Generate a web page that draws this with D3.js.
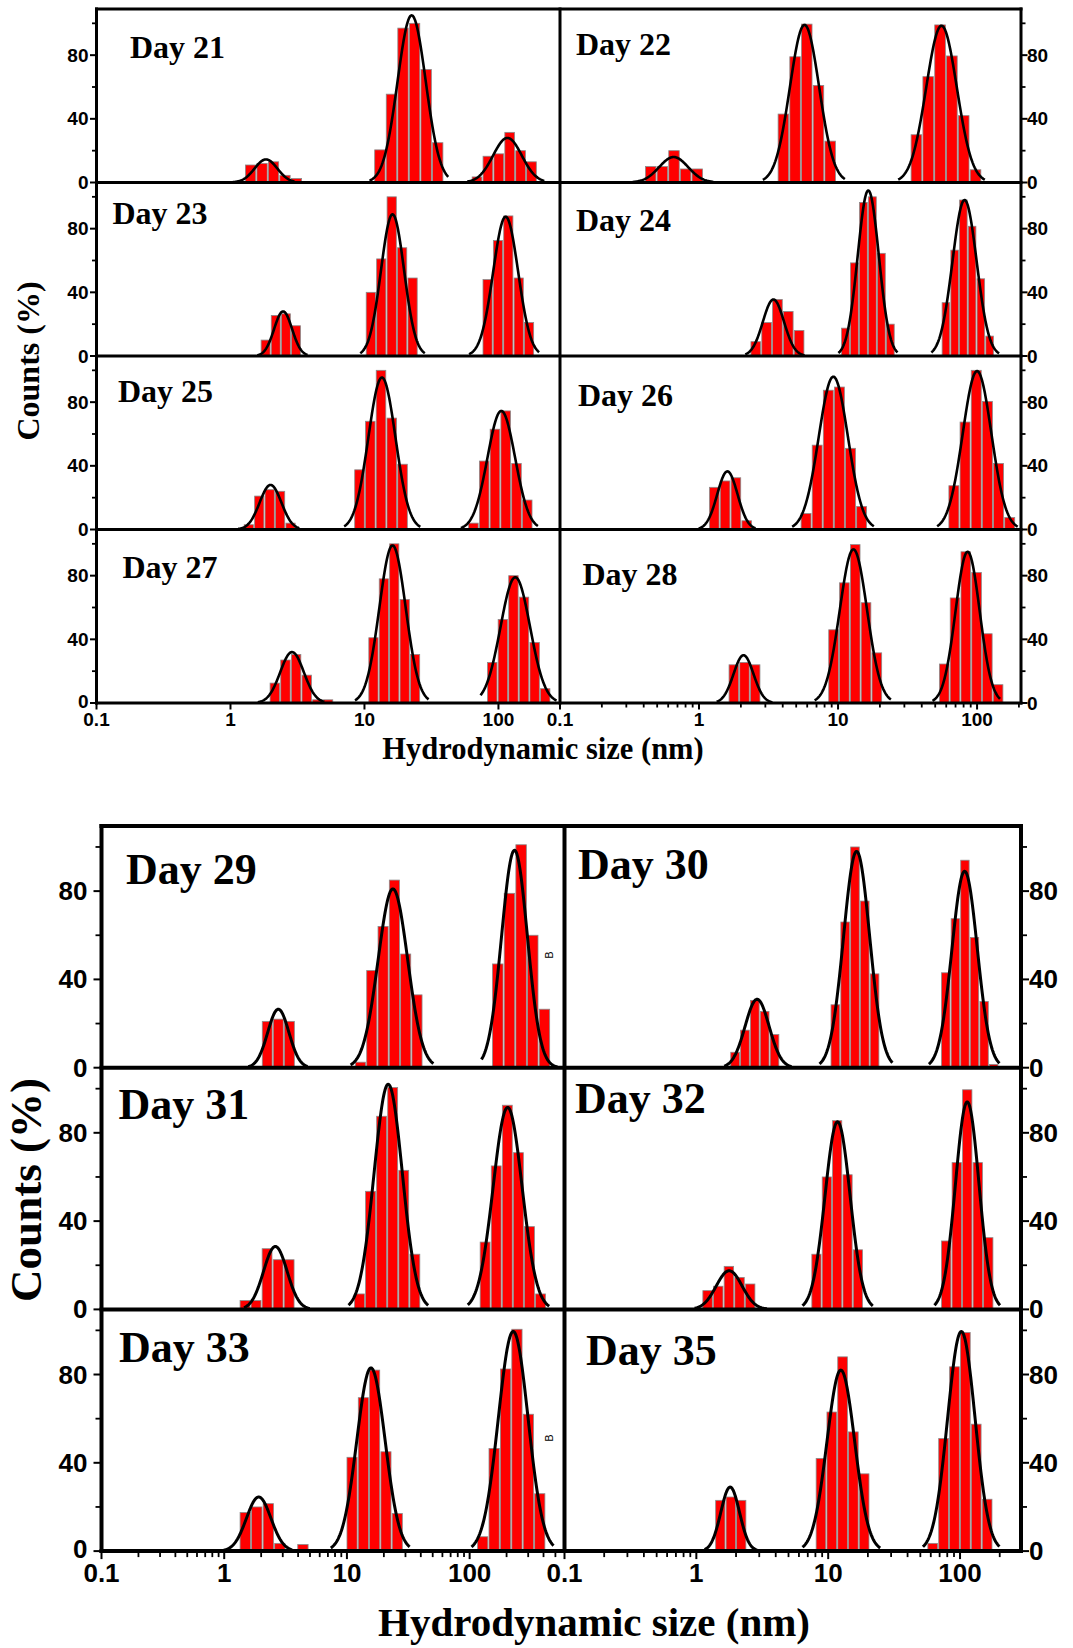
<!DOCTYPE html>
<html><head><meta charset="utf-8">
<script src="https://cdn.jsdelivr.net/npm/d3@7"></script>
<style>body{margin:0;background:#fff} svg{display:block}</style>
</head><body>
<svg id="chart" width="1073" height="1648"></svg>
<script>
// ---------- DATA ----------
// histogram peaks: [lowEdge nm, highEdge nm, counts per (log-equal) bin]
const hist21 = [[1.28, 3.43, [11, 12, 13, 4.5, 2.5]], [11.8, 38.9, [20.5, 55.5, 97, 100, 71, 25]], [63, 193.7, [3.5, 16.5, 18, 31.5, 20, 13]]];
const hist22 = [[0.408, 1.07, [10, 10, 20, 8.5, 8.5]], [3.67, 9.67, [43, 79, 99.5, 61, 26]], [33.2, 107.5, [30, 66.5, 99, 79.5, 42, 8]]];
const hist23 = [[1.676, 3.365, [10, 25.5, 26.5, 19]], [10.2, 25, [40, 61, 100, 68, 49]], [75.9, 185, [48, 72.5, 88, 49, 21]]];
const hist24 = [[2.34, 5.74, [9, 21, 35.5, 28, 16]], [10.5, 25.6, [17.5, 58.5, 96.5, 100, 64.5, 20]], [55.5, 132.3, [33.5, 66.5, 98, 81.5, 48.5, 12.5]]];
const hist25 = [[1.253, 3.07, [3, 21, 25, 24, 4]], [8.37, 21.1, [37.5, 68, 100, 70, 41]], [59.3, 179.9, [4, 43, 63, 74.5, 41.5, 18.5]]];
const hist26 = [[1.177, 2.41, [26.5, 30.5, 32.5, 5.5]], [5.37, 16.2, [10, 53, 87.5, 89.5, 51, 14.5]], [62.1, 188.4, [27.5, 67.5, 100, 80.5, 41.5, 7.5]]];
const hist27 = [[1.955, 5.86, [12.5, 27, 30.5, 17.5, 2, 2]], [10.67, 26.1, [41, 78, 100, 65, 30.5]], [82.1, 244.7, [25.5, 52.5, 80, 66.5, 38, 9]]];
const hist28 = [[1.628, 2.77, [24, 25.5, 24]], [8.49, 20.8, [46, 75.5, 99.5, 63, 31.5]], [53.1, 154.9, [24.5, 66, 95, 82, 43.5, 11.5]]];
const hist29 = [[2.02, 3.77, [21, 22, 21]], [11.6, 41.4, [2.5, 44, 64, 85, 51.5, 33]], [152, 454, [47, 79, 101, 60, 26.5]]];
const hist30 = [[1.805, 4.27, [7, 17, 30.5, 25.5, 15]], [10.4, 24.5, [28.5, 66, 100, 75.5, 42.5]], [71.7, 195.6, [43, 67.5, 94, 59, 30, 1.5]]];
const hist31 = [[1.332, 3.75, [4, 4, 27.5, 22.5, 22.5]], [11.4, 39.7, [7, 53.5, 87.5, 100.5, 63, 25]], [120.5, 420, [30.5, 65, 92.5, 71, 37.5, 7]]];
const hist32 = [[1.109, 2.81, [8.5, 10.5, 19.5, 14.5, 11.5]], [7.44, 18.4, [25, 60, 85.5, 61, 27]], [71.7, 179.5, [31, 66.5, 99.5, 66.5, 32.5]]];
const hist33 = [[1.332, 4.88, [17.5, 20, 21.5, 3.5, 0, 3]], [9.9, 28.6, [42.5, 69.5, 82, 45, 17]], [114.8, 415, [6.5, 46.5, 82.5, 100.5, 62, 26]]];
const hist35 = [[1.387, 2.40, [23, 24.5, 23]], [8.02, 20.6, [42, 63, 88, 54, 35]], [56.4, 176.5, [3.5, 51, 83.5, 99, 57.5, 23.5]]];

// Gauss fits: [centre nm, height %, width (decades), drawn from nm, drawn to nm]
const fit21 = [[1.84, 14.5, 0.085, 1.0, 3.0], [22.5, 105, 0.105, 10.9, 42.2], [116.7, 28, 0.107, 58.5, 220]];
const fit22 = [[0.657, 16, 0.104, 0.333, 1.265], [5.74, 99, 0.105, 2.88, 11.2], [55.5, 98.5, 0.11, 27.1, 113.8]];
const fit23 = [[2.47, 28, 0.067, 1.585, 3.76], [16.2, 89, 0.086, 9.3, 28.2], [113.2, 87.5, 0.093, 60.3, 201]];
const fit24 = [[3.43, 35.5, 0.076, 2.15, 5.74], [16.5, 104, 0.076, 10.06, 26.8], [81.3, 98, 0.087, 46.9, 143.9]];
const fit25 = [[1.99, 28, 0.081, 1.14, 3.26], [13.5, 95.5, 0.101, 7.05, 26.1], [105, 74.5, 0.103, 52.4, 197]];
const fit26 = [[1.6, 36.5, 0.073, 0.995, 2.55], [9.25, 96, 0.105, 4.67, 18.1], [100, 99.5, 0.103, 51.6, 196]];
const fit27 = [[2.88, 32, 0.088, 1.6, 5.02], [16.2, 99, 0.098, 8.49, 30.1], [133.6, 79, 0.11, 73.5, 271.5]];
const fit28 = [[2.09, 30, 0.072, 1.34, 3.37], [12.9, 96.5, 0.098, 6.79, 24], [85.5, 95, 0.087, 47.8, 146.2]];
const fit29 = [[2.76, 26.5, 0.086, 1.57, 4.78], [23.7, 81, 0.12, 10.7, 50.6], [232, 98.5, 0.105, 125, 520]];
const fit30 = [[2.89, 31, 0.091, 1.628, 5.28], [16.43, 98, 0.099, 8.59, 30.7], [108.4, 89, 0.096, 58, 199]];
const fit31 = [[2.61, 28.5, 0.096, 1.45, 4.98], [21.7, 102, 0.115, 10.3, 45.9], [204, 91.5, 0.118, 96.6, 445]];
const fit32 = [[1.774, 17.5, 0.098, 0.97, 3.43], [11.78, 85, 0.095, 6.38, 21.8], [113.4, 94, 0.089, 64, 201]];
const fit33 = [[1.91, 24.5, 0.1, 0.99, 3.57], [15.7, 83, 0.115, 7.39, 32.4], [226.5, 99.5, 0.121, 103.5, 483]];
const fit35 = [[1.805, 29, 0.071, 1.154, 2.89], [12.47, 82, 0.105, 6.38, 24.8], [102.3, 99.5, 0.104, 52.3, 199]];

const days = [21, 22, 23, 24, 25, 26, 27, 28, 29, 30, 31, 32, 33, 35];
const yTicks = [0, 40, 80];
const yMinorTicks = [20, 60, 100];
const xTicks = [0.1, 1, 10, 100];
const xTickLabels = ["0.1", "1", "10", "100"];
const xMinorMult = [2, 3, 4, 5, 6, 7, 8, 9];
const yTitle = "Counts (%)";
const xTitle = "Hydrodynamic size (nm)";
const axisMaxLeftTop = 288, axisMaxRightTop = 207, axisMaxLeftBot = 593, axisMaxRightBot = 290;

const histByDay = new Map(days.map((d, i) => [d, [hist21, hist22, hist23, hist24, hist25, hist26, hist27, hist28, hist29, hist30, hist31, hist32, hist33, hist35][i]]));
const fitByDay = new Map(days.map((d, i) => [d, [fit21, fit22, fit23, fit24, fit25, fit26, fit27, fit28, fit29, fit30, fit31, fit32, fit33, fit35][i]]));

// ---------- LAYOUT ----------
const svg = d3.select("#chart");
const SANS = "'Liberation Sans', Arial, sans-serif";
const SERIF = "'Liberation Serif', 'Times New Roman', serif";

const figures = [
  { top: 9, rowH: 173.5, yMax: 109, lw: 3, curveW: 2.6, tickFont: 19, dayFont: 32,
    cols: [{ x0: 96.5, x1: 560, xMax: axisMaxLeftTop, minor: false }, { x0: 560, x1: 1021, xMax: axisMaxRightTop, minor: true }],
    grid: [[21, 22], [23, 24], [25, 26], [27, 28]],
    dayPos: { 21: [130, 58], 22: [576, 55], 23: [112.5, 224], 24: [576, 231], 25: [118, 402], 26: [578, 406], 27: [122.5, 578], 28: [582.5, 585] },
    xLabelBase: 726, yLabGapL: 8, yLabGapR: 6, majLen: 5, minLen: 3,
    yTitle: { x: 39, y: 361, size: 32 }, xTitle: { x: 543, y: 759, size: 30.5 } },
  { top: 826, rowH: 241.7, yMax: 109.5, lw: 4, curveW: 3, tickFont: 26, dayFont: 44,
    cols: [{ x0: 101.5, x1: 564.5, xMax: axisMaxLeftBot, minor: true }, { x0: 564.5, x1: 1021, xMax: axisMaxRightBot, minor: true }],
    grid: [[29, 30], [31, 32], [33, 35]],
    dayPos: { 29: [126, 884], 30: [578, 879], 31: [118.5, 1119], 32: [575, 1113], 33: [119, 1362], 35: [586, 1365] },
    xLabelBase: 1582, yLabGapL: 14, yLabGapR: 8, majLen: 6, minLen: 4,
    yTitle: { x: 41, y: 1190, size: 45 }, xTitle: { x: 594, y: 1636, size: 41 } }
];

let clipId = 0;
figures.forEach(fig => {
  const nRows = fig.grid.length;
  const bottom = fig.top + nRows * fig.rowH;
  const left = fig.cols[0].x0, right = fig.cols[1].x1;
  const g = svg.append("g");

  fig.grid.forEach((rowDays, r) => {
    const y0 = fig.top + r * fig.rowH, y1 = y0 + fig.rowH;
    const ys = d3.scaleLinear().domain([0, fig.yMax]).range([y1, y0]);
    rowDays.forEach((day, c) => {
      const col = fig.cols[c];
      const xs = d3.scaleLog().domain([0.1, col.xMax]).range([col.x0, col.x1]);
      const id = "clip" + (clipId++);
      svg.append("clipPath").attr("id", id).append("rect")
        .attr("x", col.x0).attr("y", y0).attr("width", col.x1 - col.x0).attr("height", fig.rowH);
      const pg = g.append("g").attr("clip-path", `url(#${id})`);

      // bars
      histByDay.get(day).forEach(([lo, hi, counts]) => {
        const n = counts.length;
        const edges = d3.range(n + 1).map(i => lo * Math.pow(hi / lo, i / n));
        pg.selectAll(null).data(counts.map((v, i) => ({ v, a: edges[i], b: edges[i + 1] })).filter(d => d.v > 0))
          .join("rect")
          .attr("x", d => xs(d.a) + 0.6)
          .attr("width", d => Math.max(0.5, xs(d.b) - xs(d.a) - 1.2))
          .attr("y", d => ys(d.v))
          .attr("height", d => ys(0) - ys(d.v))
          .attr("fill", "#ff0000")
          .attr("stroke", "#8a8a8a")
          .attr("stroke-width", 0.8);
      });

      // gauss fits
      const line = d3.line().x(d => xs(d[0])).y(d => ys(d[1])).curve(d3.curveLinear);
      fitByDay.get(day).forEach(([mu, amp, sig, from, to]) => {
        const lf = Math.log10(from), lt = Math.log10(to), lm = Math.log10(mu);
        const pts = d3.range(0, 121).map(i => {
          const lx = lf + (lt - lf) * i / 120;
          return [Math.pow(10, lx), amp * Math.exp(-0.5 * Math.pow((lx - lm) / sig, 2))];
        });
        pg.append("path").attr("d", line(pts)).attr("fill", "none")
          .attr("stroke", "#000").attr("stroke-width", fig.curveW).attr("stroke-linejoin", "round");
      });

      // day label
      const [lx, ly] = fig.dayPos[day];
      g.append("text").attr("x", lx).attr("y", ly).text("Day " + day)
        .attr("font-family", SERIF).attr("font-weight", "bold").attr("font-size", fig.dayFont).attr("fill", "#000");

      // x axis on bottom row
      if (r === nRows - 1) {
        xTicks.forEach((t, k) => {
          g.append("line").attr("x1", xs(t)).attr("x2", xs(t)).attr("y1", y1).attr("y2", y1 + fig.lw / 2 + fig.majLen)
            .attr("stroke", "#000").attr("stroke-width", 2);
          g.append("text").attr("x", xs(t)).attr("y", fig.xLabelBase).text(xTickLabels[k])
            .attr("text-anchor", "middle").attr("font-family", SANS).attr("font-weight", "bold")
            .attr("font-size", fig.tickFont);
        });
        if (col.minor) {
          xTicks.forEach(t => xMinorMult.forEach(m => {
            const v = t * m;
            if (v < col.xMax) {
              g.append("line").attr("x1", xs(v)).attr("x2", xs(v)).attr("y1", y1).attr("y2", y1 + fig.lw / 2 + fig.minLen)
                .attr("stroke", "#000").attr("stroke-width", 1.8);
            }
          }));
        }
      }

      // y axis ticks & labels
      const isLeft = c === 0;
      const ax = isLeft ? col.x0 : col.x1;
      const dir = isLeft ? -1 : 1;
      yTicks.forEach(t => {
        g.append("line").attr("x1", ax).attr("x2", ax + dir * (fig.lw / 2 + fig.majLen)).attr("y1", ys(t)).attr("y2", ys(t))
          .attr("stroke", "#000").attr("stroke-width", 2);
        g.append("text").attr("x", ax + dir * (isLeft ? fig.yLabGapL : fig.yLabGapR)).attr("y", ys(t) - (t === 0 && r === nRows - 1 && isLeft ? 2 : 0)).text(t)
          .attr("text-anchor", isLeft ? "end" : "start").attr("dominant-baseline", "central")
          .attr("font-family", SANS).attr("font-weight", "bold").attr("font-size", fig.tickFont);
      });
      yMinorTicks.forEach(t => {
        g.append("line").attr("x1", ax).attr("x2", ax + dir * (fig.lw / 2 + fig.minLen)).attr("y1", ys(t)).attr("y2", ys(t))
          .attr("stroke", "#000").attr("stroke-width", 1.8);
      });
    });
  });

  // frame lines
  const fl = (x1, y1, x2, y2) => g.append("line").attr("x1", x1).attr("y1", y1).attr("x2", x2).attr("y2", y2)
    .attr("stroke", "#000").attr("stroke-width", fig.lw).attr("stroke-linecap", "square");
  fl(left, fig.top, right, fig.top);
  for (let r = 1; r <= nRows; r++) fl(left, fig.top + r * fig.rowH, right, fig.top + r * fig.rowH);
  fl(left, fig.top, left, bottom);
  fl(right, fig.top, right, bottom);
  fl(fig.cols[0].x1, fig.top, fig.cols[0].x1, bottom);

  // titles
  g.append("text").attr("transform", `translate(${fig.yTitle.x},${fig.yTitle.y}) rotate(-90)`)
    .attr("text-anchor", "middle").text(yTitle)
    .attr("font-family", SERIF).attr("font-weight", "bold").attr("font-size", fig.yTitle.size);
  g.append("text").attr("x", fig.xTitle.x).attr("y", fig.xTitle.y).attr("text-anchor", "middle").text(xTitle)
    .attr("font-family", SERIF).attr("font-weight", "bold").attr("font-size", fig.xTitle.size);
});

// small stray "B" marks present in the original figure
[[549, 955], [549, 1438]].forEach(([x, y]) => {
  svg.append("text").attr("transform", `translate(${x},${y}) rotate(-90)`).attr("text-anchor", "middle")
    .attr("dominant-baseline", "central").text("B").attr("font-family", SANS).attr("font-size", 11);
});
</script>
</body></html>
